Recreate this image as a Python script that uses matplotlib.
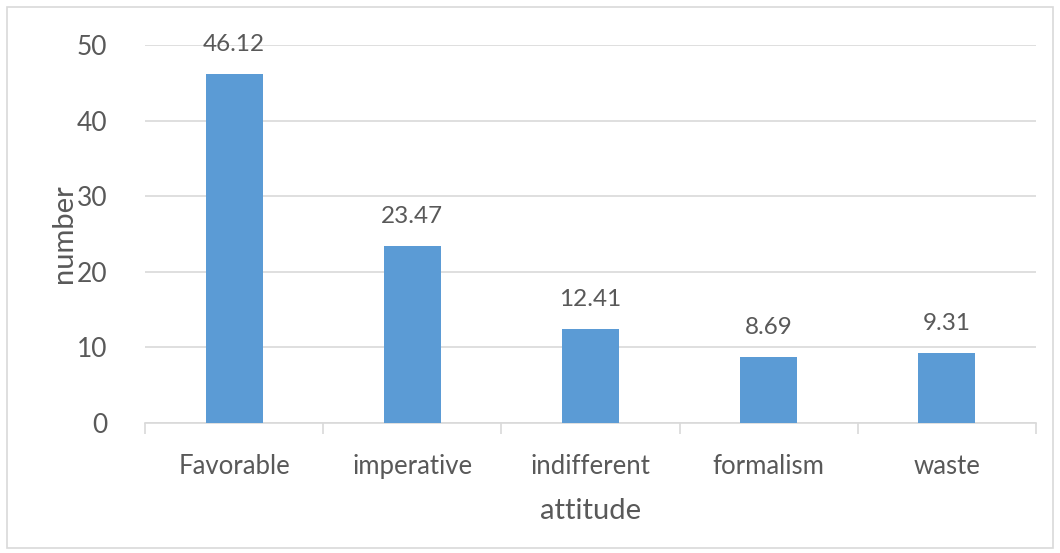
import numpy as np
import matplotlib
matplotlib.use("Agg")
import matplotlib.pyplot as plt
from matplotlib.patches import Rectangle

categories = ["Favorable", "imperative", "indifferent", "formalism", "waste"]
values = [46.12, 23.47, 12.41, 8.69, 9.31]
yticks = [0, 10, 20, 30, 40, 50]

plt.rcParams["font.family"] = ["Lato", "DejaVu Sans"]
TXT = "#595959"; GRID = "#d9d9d9"; BAR = "#5b9bd5"

W, H = 1060, 553
fig = plt.figure(figsize=(W/100, H/100), dpi=100)
ax = fig.add_axes([145/W, 1-423/H, (1036-145)/W, (423-45)/H])

x = np.arange(len(categories))
bars = ax.bar(x, values, width=0.32, color=BAR, zorder=3)
for b, v in zip(bars, values):
    ax.text(b.get_x()+b.get_width()/2, v+2.5, f"{v:.2f}", ha="center", va="bottom",
            fontsize=17.5, color=TXT)

ax.set_xlim(-0.5, len(categories)-0.5)
ax.set_ylim(0, 50)
ax.set_yticks(yticks)
ax.set_yticklabels([str(t) for t in yticks], fontsize=19, color=TXT)
ax.tick_params(axis="y", length=0, pad=27)
ax.yaxis.grid(True, color=GRID, lw=1.2, zorder=0)
ax.set_xticks(x)
ax.set_xticklabels(categories, fontsize=18.5, color=TXT)
ax.tick_params(axis="x", length=0, pad=22)
# category boundary ticks
ax.set_xticks(np.arange(-0.5, len(categories)), minor=True)
ax.tick_params(axis="x", which="minor", length=8, color=GRID, width=1.2)
for s in ["top", "right", "left"]:
    ax.spines[s].set_visible(False)
ax.spines["bottom"].set_color(GRID)
ax.spines["bottom"].set_linewidth(1.2)

ax.set_ylabel("number", fontsize=21, color=TXT, labelpad=0)
ax.set_xlabel("attitude", fontsize=21, color=TXT, labelpad=14)

fig.patches.append(Rectangle((7/W, 5/H), 1-14/W, 1-12/H, transform=fig.transFigure,
                             fill=False, edgecolor=GRID, lw=1.2))

plt.savefig("out.png", dpi=100)
